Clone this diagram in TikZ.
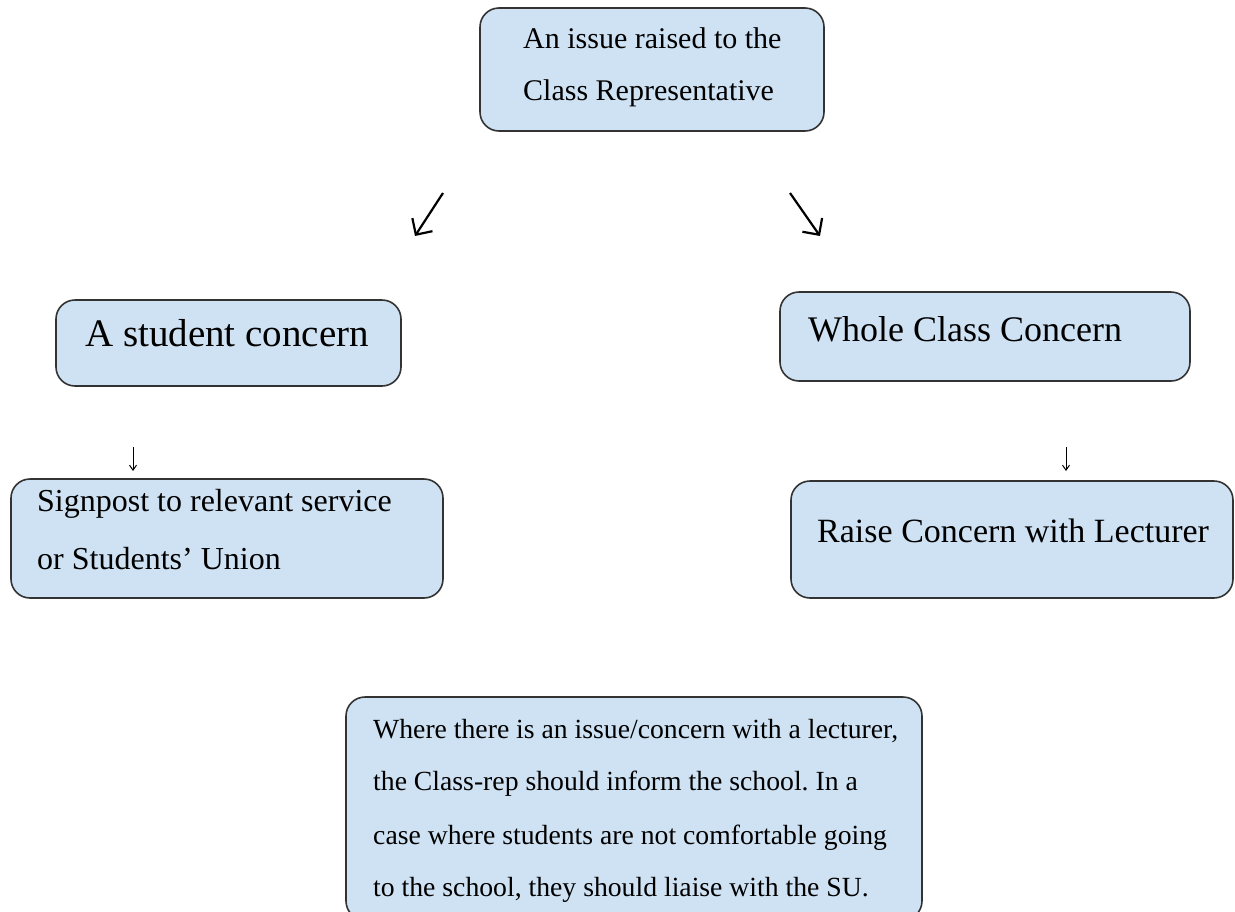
\documentclass[tikz,border=0pt]{standalone}
\usepackage{fontspec}
\setmainfont{Liberation Serif}
\usetikzlibrary{arrows.meta}
\definecolor{boxfill}{HTML}{CFE2F3}
\definecolor{boxline}{HTML}{333333}
\frenchspacing
\begin{document}
\begin{tikzpicture}[x=1pt,y=-1pt,
  box/.style={draw=boxline,fill=boxfill,line width=1.6pt,rounded corners=19pt},
  lbl/.style={anchor=base west,inner sep=0pt,text=black},
  bigarr/.style={line width=2.2pt,-{Straight Barb[length=12pt,width=24pt,line width=2.2pt]}},
  smallarr/.style={line width=1pt,-{Straight Barb[length=5pt,width=7pt,line width=1pt]}}]
\useasboundingbox (0,0) rectangle (1235,911);
% boxes
\draw[box] (480,8) rectangle (824,131);
\node[lbl,font=\fontsize{30}{36}\selectfont] (t1) at (523,48) {An issue raised to the};
\node[lbl,font=\fontsize{30}{36}\selectfont] (t2) at (523,100) {Class Representative};
\draw[box] (56,300) rectangle (401,386);
\node[lbl,font=\fontsize{39}{46}\selectfont] (s1) at (85,346) {A student concern};
\draw[box] (780,292) rectangle (1190,381);
\node[lbl,font=\fontsize{36}{42}\selectfont] (w1) at (808,341) {Whole Class Concern};
\draw[box] (11,479) rectangle (443,598);
\node[lbl,font=\fontsize{32}{38}\selectfont] (g1) at (37,511) {Signpost to relevant service};
\node[lbl,font=\fontsize{32}{38}\selectfont] (g2) at (37,569) {or Students' Union};
\draw[box] (791,481) rectangle (1233,598);
\node[lbl,font=\fontsize{34}{40}\selectfont] (r1) at (817,542) {Raise Concern with Lecturer};
\draw[box] (346,697) rectangle (922,920);
\node[lbl,font=\fontsize{27.7}{33}\selectfont] (b1) at (373,738) {Where there is an issue/concern with a lecturer,};
\node[lbl,font=\fontsize{27.7}{33}\selectfont] (b2) at (373,790) {the Class-rep should inform the school. In a};
\node[lbl,font=\fontsize{27.7}{33}\selectfont] (b3) at (373,844) {case where students are not comfortable going};
\node[lbl,font=\fontsize{27.7}{33}\selectfont] (b4) at (373,896) {to the school, they should liaise with the SU.};
% arrows
\coordinate (a1s) at (443,193); \coordinate (a1e) at (415,236);
\coordinate (a2s) at (790,193); \coordinate (a2e) at (820,236);
\coordinate (a3s) at (133,447); \coordinate (a3e) at (133,471);
\coordinate (a4s) at (1066,447); \coordinate (a4e) at (1066,471);
\draw[bigarr] (a1s) -- (a1e);
\draw[bigarr] (a2s) -- (a2e);
\draw[smallarr] (a3s) -- (a3e);
\draw[smallarr] (a4s) -- (a4e);
\end{tikzpicture}
\end{document}
